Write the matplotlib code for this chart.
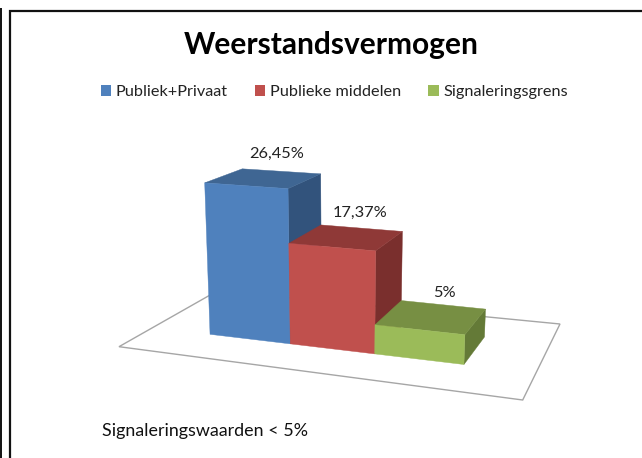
import numpy as np
import matplotlib
matplotlib.use("Agg")
import matplotlib.pyplot as plt
from matplotlib.patches import Polygon, Patch

# Data
series = ["Publiek+Privaat", "Publieke middelen", "Signaleringsgrens"]
values = [26.45, 17.37, 5.0]
value_labels = ["26,45%", "17,37%", "5%"]
title = "Weerstandsvermogen"
note = "Signaleringswaarden < 5%"

# Styles
front = ["#4F81BD", "#C0504D", "#9BBB59"]
top = ["#3F6693", "#8F3937", "#778F43"]
side = ["#32537C", "#7A2F2D", "#647A37"]
FONT = "Lato"

# Camera calibration: world (x, depth, percent) -> image pixel
anchors = [
    ((0, 0, 0), (210, 334)), ((1, 0, 0), (290, 343.7)),
    ((2, 0, 0), (374.3, 353.7)), ((3, 0, 0), (463.7, 364.7)),
    ((3, 1, 0), (484.3, 336.7)),
    ((0, 0, 26.45), (205, 182.7)), ((1, 0, 26.45), (288.3, 188.3)),
    ((1, 1, 26.45), (320.7, 174)), ((0, 1, 26.45), (241.7, 169.3)),
    ((1, 0, 17.37), (289, 243.7)), ((2, 0, 17.37), (375.7, 250.3)),
    ((2, 1, 17.37), (402, 231)), ((1, 1, 17.37), (320.7, 225)),
    ((2, 0, 5), (375, 325.7)), ((3, 0, 5), (465, 335)),
    ((3, 1, 5), (485, 309)), ((2, 1, 5), (403.3, 300.7)),
]
rows, rhs = [], []
for (X, Y, Z), (u, v) in anchors:
    rows.append([X, Y, Z, 1, 0, 0, 0, 0, -u * X, -u * Y, -u * Z])
    rows.append([0, 0, 0, 0, X, Y, Z, 1, -v * X, -v * Y, -v * Z])
    rhs += [u, v]
cam = np.linalg.lstsq(np.array(rows, float), np.array(rhs, float), rcond=None)[0]
P = np.append(cam, 1.0).reshape(3, 4)


def project(x, d, z):
    h = P @ np.array([x, d, z, 1.0])
    return h[0] / h[2], h[1] / h[2]


fig = plt.figure(figsize=(6.42, 4.58), dpi=100, facecolor="white")
ax = fig.add_axes([0, 0, 1, 1])
ax.set_xlim(0, 642)
ax.set_ylim(458, 0)
ax.axis("off")

# Window frame
ax.plot([1.2, 1.2], [8, 458], color="#111111", lw=1.4, solid_capstyle="butt")
ax.plot([9.5, 9.5, 642], [458, 11, 11], color="#111111", lw=1.6, solid_joinstyle="miter")

# Floor
ax.add_patch(Polygon([(119, 346.7), (217.7, 290.7), (560, 324), (522.7, 400)],
                     closed=True, facecolor="white", edgecolor="#A6A6A6", lw=1.0, zorder=1))

# Bars
for i, v in enumerate(values):
    ax.add_patch(Polygon([project(i + 1, 0, 0), project(i + 1, 1, 0), project(i + 1, 1, v), project(i + 1, 0, v)],
                         closed=True, facecolor=side[i], edgecolor=side[i], lw=0.3, zorder=2 + i))
    ax.add_patch(Polygon([project(i, 0, v), project(i + 1, 0, v), project(i + 1, 1, v), project(i, 1, v)],
                         closed=True, facecolor=top[i], edgecolor=top[i], lw=0.3, zorder=2 + i))
    ax.add_patch(Polygon([project(i, 0, 0), project(i + 1, 0, 0), project(i + 1, 0, v), project(i, 0, v)],
                         closed=True, facecolor=front[i], edgecolor=front[i], lw=0.3, zorder=2 + i))
    cx, cy = project(i + 0.5, 0.5, v)
    ax.annotate(value_labels[i], (cx, cy), xytext=(13, 24), textcoords="offset pixels",
                ha="center", va="center", fontsize=11.8, color="#222222", family=FONT, zorder=10)

ax.text(331.5, 45, title, ha="center", va="center", fontsize=21.5, fontweight="bold",
        family=FONT, color="black")
ax.text(102, 431, note, ha="left", va="center", fontsize=12.9, family=FONT, color="#111111")

handles = [Patch(facecolor=c, edgecolor="none", label=s) for c, s in zip(front, series)]
ax.legend(handles=handles, ncol=3, frameon=False, loc="center", bbox_to_anchor=(334.5 / 642, 1 - 92 / 458),
          prop={"family": FONT, "size": 11.7}, labelcolor="#222222",
          handlelength=0.62, handleheight=0.62, handletextpad=0.32, columnspacing=1.66, borderpad=0)

fig.savefig("out.png", dpi=100)
